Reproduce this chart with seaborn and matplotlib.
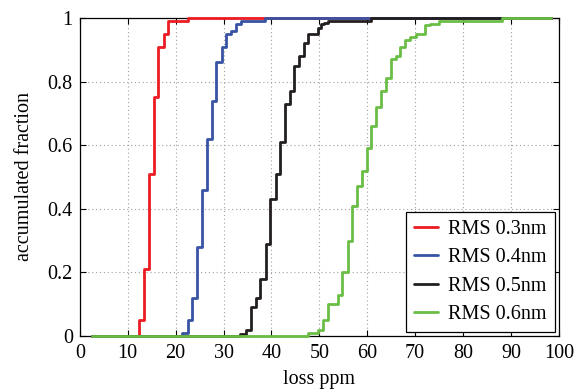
import numpy as np
import pandas as pd
import matplotlib
matplotlib.use("Agg")
import matplotlib.pyplot as plt
import seaborn as sns

# ---- data (step positions in ppm, cumulative fraction after each step)
series_names = ["RMS 0.3nm", "RMS 0.4nm", "RMS 0.5nm", "RMS 0.6nm"]
series_colors = ["#ed1c24", "#3953a4", "#231f20", "#6abd45"]

loss_03 = [12.4, 13.4, 14.4, 15.4, 16.4, 17.5, 18.5, 22.6]
cum_03 = [0.05, 0.21, 0.51, 0.75, 0.91, 0.95, 0.99, 1.00]

loss_04 = [21.4, 22.5, 23.5, 24.5, 25.6, 26.6, 27.6, 28.5, 29.6, 30.6, 31.5, 32.6, 33.6, 38.7]
cum_04 = [0.01, 0.05, 0.12, 0.28, 0.46, 0.62, 0.74, 0.86, 0.91, 0.95, 0.96, 0.98, 0.99, 1.00]

loss_05 = [33.5, 34.6, 35.7, 36.7, 37.7, 38.8, 39.8, 40.9, 41.8, 42.8, 43.8, 44.7, 45.7,
           46.7, 47.7, 49.8, 50.4, 51.0, 51.8, 60.7]
cum_05 = [0.005, 0.02, 0.09, 0.12, 0.18, 0.29, 0.43, 0.51, 0.61, 0.73, 0.77, 0.85, 0.88,
          0.92, 0.95, 0.97, 0.98, 0.985, 0.99, 1.00]

loss_06 = [47.7, 49.8, 50.7, 51.8, 53.9, 54.8, 55.9, 56.8, 57.8, 58.9, 59.9, 60.8, 61.9,
           62.9, 63.9, 64.9, 66.0, 66.9, 67.8, 68.9, 70.2, 72.0, 73.1, 75.0, 88.2]
cum_06 = [0.01, 0.02, 0.05, 0.10, 0.13, 0.20, 0.30, 0.41, 0.47, 0.52, 0.59, 0.66, 0.72,
          0.77, 0.81, 0.87, 0.88, 0.91, 0.93, 0.94, 0.95, 0.977, 0.982, 0.991, 1.00]

range_start = 2.5   # curves start at y=0 here
range_end = 98.3    # curves end at y=1 here

x_ticks = [0, 10, 20, 30, 40, 50, 60, 70, 80, 90, 100]
y_ticks = [0, 0.2, 0.4, 0.6, 0.8, 1.0]
y_ticklabels = ["0", "0.2", "0.4", "0.6", "0.8", "1"]

all_loss = [loss_03, loss_04, loss_05, loss_06]
all_cum = [cum_03, cum_04, cum_05, cum_06]

# ---- style
sns.set_theme(style="white")
plt.rcParams["font.family"] = ["Liberation Serif", "DejaVu Serif"]
plt.rcParams["mathtext.fontset"] = "stix"

fig = plt.figure(figsize=(5.78, 3.91), dpi=100)
ax = fig.add_axes([0.138, 0.141, 0.829, 0.813])

for i, (name, color, loss, cum) in enumerate(zip(series_names, series_colors, all_loss, all_cum)):
    vals = [range_start] + list(loss) + [range_end]
    incr = np.diff(np.r_[0.0, cum])
    w = np.r_[0.0, incr, 0.0]
    df = pd.DataFrame({"loss": vals, "w": w})
    sns.ecdfplot(data=df, x="loss", weights="w", stat="proportion",
                 color=color, lw=2.0, label=name, ax=ax,
                 clip_on=False, zorder=3 + i)

ax.set_xlim(0, 100)
ax.set_ylim(0, 1)
ax.set_xticks(x_ticks)
ax.set_yticks(y_ticks)
ax.set_yticklabels(y_ticklabels)
ax.set_xlabel("loss ppm", fontsize=14.5, color="black", labelpad=5)
ax.set_ylabel("accumulated fraction", fontsize=14.5, color="black", labelpad=10)

ax.grid(True, linestyle=(0, (1, 2.5)), color="#a0a0a0", linewidth=0.8)
ax.set_axisbelow(True)
ax.tick_params(axis="both", which="both", direction="in", length=4, width=0.8,
               top=True, right=True, bottom=True, left=True,
               labelsize=14.5, colors="black")
ax.tick_params(axis="x", pad=6)
ax.tick_params(axis="y", pad=5)
for sp in ax.spines.values():
    sp.set_visible(True)
    sp.set_color("black")
    sp.set_linewidth(0.9)
    sp.set_zorder(1)

leg = ax.legend(loc="lower right", fontsize=14.5, frameon=True, fancybox=False,
                edgecolor="black", framealpha=1, handlelength=1.2,
                handletextpad=0.5, borderpad=0.4, labelspacing=0.45,
                borderaxespad=0.2)
leg.get_frame().set_linewidth(0.9)
leg.set_zorder(10)
for t in leg.get_texts():
    t.set_color("black")

fig.savefig("out.png", dpi=100)
